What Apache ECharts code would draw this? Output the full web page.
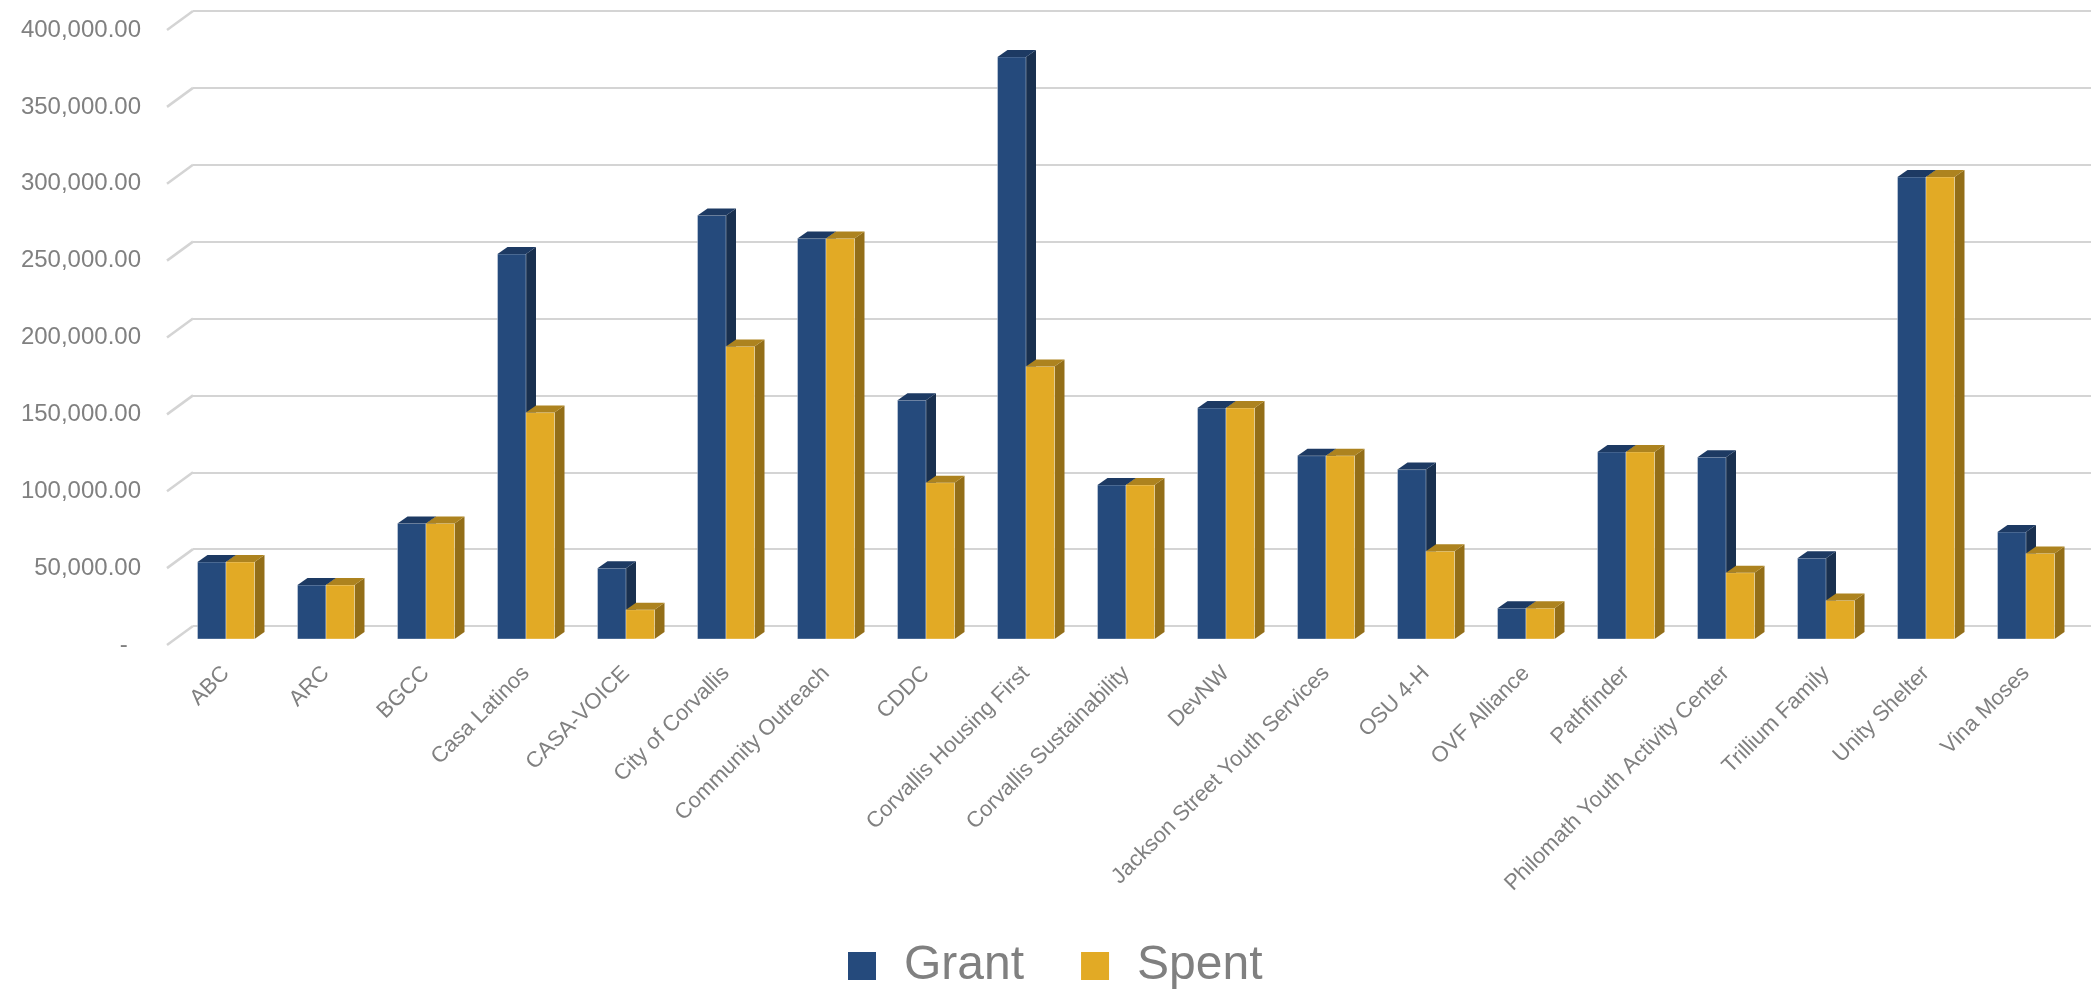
<!DOCTYPE html>
<html>
<head>
<meta charset="utf-8">
<script src="https://cdn.jsdelivr.net/npm/echarts@6/dist/echarts.min.js"></script>
<style>
html,body{margin:0;padding:0;background:#ffffff;}
#chart{width:2091px;height:992px;}
</style>
</head>
<body>
<div id="chart"></div>
<script>
const categories = ['ABC','ARC','BGCC','Casa Latinos','CASA-VOICE','City of Corvallis','Community Outreach','CDDC','Corvallis Housing First','Corvallis Sustainability','DevNW','Jackson Street Youth Services','OSU 4-H','OVF Alliance','Pathfinder','Philomath Youth Activity Center','Trillium Family','Unity Shelter','Vina Moses'];
const grant = [50000, 35000, 75000, 250000, 46000, 275000, 260000, 155000, 378000, 100000, 150000, 119000, 110000, 20000, 121500, 118000, 52500, 300000, 69500];
const spent = [50000, 35000, 75000, 147000, 19000, 190000, 260000, 101500, 177000, 100000, 150000, 119000, 57000, 20000, 121500, 43000, 25000, 300000, 55500];
const yTicks = [0, 50000, 100000, 150000, 200000, 250000, 300000, 350000, 400000];

const FONT = '"Liberation Sans", Arial, sans-serif';
const TEXT = '#808080';
const GRID = '#d4d4d4';

function barRenderer(leftSide, front, sideC, topC) {
  return function (params, api) {
    const i = api.value(0), v = api.value(1);
    const base = api.coord([i, 0]);
    const top = api.coord([i, v]);
    const band = api.size([1, 0])[0];
    const w = band * 0.285;
    const x0 = leftSide ? base[0] - w : base[0];
    const x1 = x0 + w;
    const yb = base[1], yt = top[1];
    const dx = 10, dy = 7;
    return {
      type: 'group',
      children: [
        { type: 'polygon', shape: { points: [[x1, yb], [x1 + dx, yb - dy], [x1 + dx, yt - dy], [x1, yt]] }, style: { fill: sideC } },
        { type: 'rect', shape: { x: x0, y: yt, width: w, height: yb - yt }, style: { fill: front, stroke: 'rgba(255,255,255,0.35)', lineWidth: 1 } },
        { type: 'polygon', shape: { points: [[x0, yt], [x0 + dx, yt - dy], [x1 + dx, yt - dy], [x1, yt]] }, style: { fill: topC } }
      ]
    };
  };
}

const chart = echarts.init(document.getElementById('chart'), null, { renderer: 'canvas' });
chart.setOption({
  backgroundColor: '#ffffff',
  animation: false,
  textStyle: { fontFamily: FONT },
  legend: {
    data: ['Grant', 'Spent'],
    left: 843,
    top: 937,
    icon: 'rect',
    itemWidth: 28,
    itemHeight: 28,
    itemGap: 57,
    formatter: function (name) { return '{p|' + name + '}'; },
    textStyle: {
      color: TEXT, fontSize: 48, fontFamily: FONT,
      rich: { p: { padding: [0, 0, 0, 23], fontSize: 48, color: TEXT, fontFamily: FONT, lineHeight: 48 } }
    }
  },
  grid: [
    { left: 176, right: 15, top: 23, bottom: 353 },
    { left: 193, right: 0, top: 11, bottom: 366 },
    { left: 167, right: 15, top: 30, bottom: 347 }
  ],
  xAxis: [
    {
      gridIndex: 0, type: 'category', data: categories,
      axisLine: { show: false }, axisTick: { show: false }, splitLine: { show: false },
      axisLabel: { interval: 0, rotate: 45, margin: 31, color: TEXT, fontSize: 22, fontFamily: FONT }
    },
    { gridIndex: 1, type: 'value', min: 0, max: 1, show: false },
    { gridIndex: 2, type: 'value', min: 0, max: 1, show: false }
  ],
  yAxis: [
    { gridIndex: 0, type: 'value', min: 0, max: 400000, interval: 50000, show: false },
    {
      gridIndex: 1, type: 'value', min: 0, max: 400000, interval: 50000,
      axisLine: { show: false }, axisTick: { show: false }, axisLabel: { show: false },
      splitLine: { show: true, lineStyle: { color: GRID, width: 2 } }
    },
    {
      gridIndex: 2, type: 'value', min: 0, max: 400000, interval: 50000,
      axisLine: { show: false }, axisTick: { show: false }, splitLine: { show: false },
      axisLabel: {
        margin: 26, color: TEXT, fontSize: 24, fontFamily: FONT,
        formatter: function (v) {
          if (v === 0) return '-  ';
          return v.toLocaleString('en-US', { minimumFractionDigits: 2, maximumFractionDigits: 2 });
        }
      }
    }
  ],
  series: [
    {
      name: 'wall-edges', type: 'custom', xAxisIndex: 1, yAxisIndex: 1, silent: true,
      data: yTicks.map(v => [0, v]),
      renderItem: function (params, api) {
        const p = api.coord([0, api.value(1)]);
        return { type: 'line', shape: { x1: p[0] - 26, y1: p[1] + 19, x2: p[0], y2: p[1] }, style: { stroke: GRID, lineWidth: 2.5 } };
      },
      z: 1
    },
    {
      name: 'Grant', type: 'custom', xAxisIndex: 0, yAxisIndex: 0,
      itemStyle: { color: '#254a7c' },
      data: grant.map((v, i) => [i, v]),
      renderItem: barRenderer(true, '#254a7c', '#19304f', '#1d3a63'),
      z: 3
    },
    {
      name: 'Spent', type: 'custom', xAxisIndex: 0, yAxisIndex: 0,
      itemStyle: { color: '#e2aa25' },
      data: spent.map((v, i) => [i, v]),
      renderItem: barRenderer(false, '#e2aa25', '#936e18', '#ad831f'),
      z: 4
    }
  ]
});
</script>
</body>
</html>
